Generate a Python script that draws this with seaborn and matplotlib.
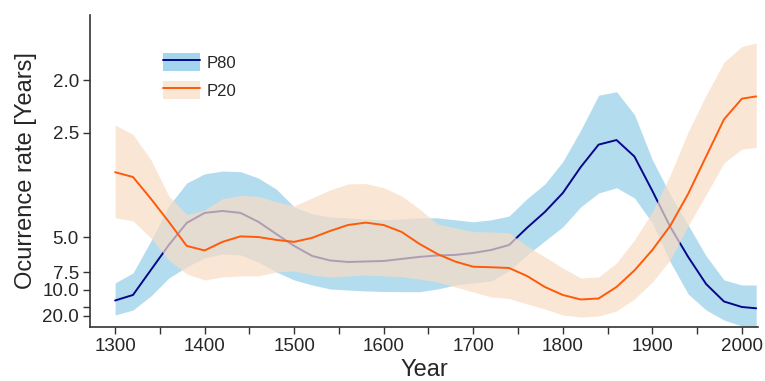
import numpy as np
import pandas as pd
import matplotlib
matplotlib.use("Agg")
import matplotlib.pyplot as plt
import seaborn as sns
from matplotlib.patches import Patch
from matplotlib.lines import Line2D

# ======================
# Data (occurrence rate in years)
# ======================
YEARS = [1300, 1320, 1340, 1360, 1380, 1400, 1420, 1440, 1460, 1480,
         1500, 1520, 1540, 1560, 1580, 1600, 1620, 1640, 1660, 1680,
         1700, 1720, 1740, 1760, 1780, 1800, 1820, 1840, 1860, 1880,
         1900, 1920, 1940, 1960, 1980, 2000, 2016]

P80_MID = [12.57, 11.10, 7.25, 5.39, 4.39, 4.05, 3.99, 4.05, 4.35, 4.84,
           5.44, 6.07, 6.41, 6.53, 6.49, 6.45, 6.29, 6.14, 6.04, 6.00,
           5.87, 5.68, 5.39, 4.58, 4.02, 3.51, 2.99, 2.65, 2.59, 2.82,
           3.46, 4.54, 6.14, 9.00, 12.88, 14.90, 15.47]
P80_LOW = [8.85, 7.57, 5.17, 3.84, 3.29, 3.11, 3.06, 3.07, 3.19, 3.42,
           3.87, 4.08, 4.18, 4.21, 4.25, 4.28, 4.25, 4.21, 4.21, 4.28,
           4.35, 4.28, 4.15, 3.65, 3.31, 2.90, 2.47, 2.12, 2.09, 2.30,
           2.87, 3.55, 4.47, 6.07, 8.42, 9.16, 9.16]
P80_HIGH = [19.30, 16.29, 11.34, 8.16, 6.96, 6.22, 5.94, 6.00, 6.53, 7.46,
            8.42, 9.16, 9.85, 10.04, 10.23, 10.33, 10.38, 10.38, 9.85, 9.16,
            8.85, 8.56, 7.35, 6.00, 5.17, 4.54, 3.87, 3.51, 3.39, 3.63,
            4.39, 6.53, 10.87, 16.29, 23.66, 32.48, 34.63]

P20_MID = [3.08, 3.17, 3.65, 4.35, 5.44, 5.71, 5.22, 4.95, 4.98, 5.12,
           5.22, 5.02, 4.71, 4.47, 4.38, 4.47, 4.75, 5.33, 5.94, 6.50,
           6.94, 6.99, 7.06, 7.91, 9.49, 11.10, 12.27, 11.99, 9.49, 7.30,
           5.68, 4.50, 3.53, 2.82, 2.35, 2.15, 2.13]
P20_LOW = [2.41, 2.52, 2.87, 3.58, 4.11, 3.96, 3.65, 3.57, 3.59, 3.73,
           3.84, 3.63, 3.44, 3.31, 3.30, 3.39, 3.58, 3.93, 4.43, 4.58,
           4.74, 4.75, 4.79, 5.44, 6.14, 7.06, 8.16, 8.03, 6.61, 5.12,
           4.02, 3.13, 2.49, 2.12, 1.87, 1.77, 1.75]
P20_HIGH = [4.21, 4.32, 5.02, 6.37, 7.68, 8.42, 8.03, 7.91, 7.91, 7.46,
            7.35, 7.79, 8.03, 7.91, 7.79, 7.91, 8.00, 8.29, 8.70, 9.49,
            10.44, 11.59, 11.99, 13.72, 15.80, 19.30, 20.83, 20.03, 16.81, 12.13,
            8.70, 6.37, 4.50, 3.55, 2.92, 2.71, 2.69]

Y_TICKS = [2.0, 2.5, 5.0, 7.5, 10.0, 15.0, 20.0]
Y_TICK_LABELS = ["2.0", "2.5", "5.0", "7.5", "10.0", "", "20.0"]
X_TICKS = list(range(1300, 2001, 50))
X_TICK_LABELS = [str(y) if y % 100 == 0 else "" for y in X_TICKS]

# ======================
# Style
# ======================
BLUE_BAND = "#b3dcef"
BLUE_PATCH = "#a3d6ee"
BLUE_LINE = "#07078a"
ORANGE_BAND = "#f9dcc4"
ORANGE_LINE = "#ff5a0a"
BAND_ALPHA = 0.7

sns.set_style("ticks")
plt.rcParams["font.family"] = ["Liberation Sans", "DejaVu Sans"]

# reciprocal axis: plot 1/rate so that the rate axis is stretched at the top
df = pd.DataFrame({
    "year": YEARS,
    "p80": 1 / np.array(P80_MID),
    "p20": 1 / np.array(P20_MID),
})

fig = plt.figure(figsize=(7.65, 3.81), dpi=100)
ax = fig.add_axes([90 / 765, 1 - 327 / 381, (758 - 90) / 765, (327 - 15) / 381])

ax.fill_between(YEARS, 1 / np.array(P80_LOW), 1 / np.array(P80_HIGH),
                color=BLUE_BAND, lw=0, zorder=1)
sns.lineplot(data=df, x="year", y="p80", color=BLUE_LINE, lw=1.4, ax=ax, zorder=2)
ax.fill_between(YEARS, 1 / np.array(P20_LOW), 1 / np.array(P20_HIGH),
                color=ORANGE_BAND, alpha=BAND_ALPHA, lw=0, zorder=3)
sns.lineplot(data=df, x="year", y="p20", color=ORANGE_LINE, lw=1.4, ax=ax, zorder=4)
for ln in ax.get_lines():
    ln.set_solid_joinstyle("round")

# axes
ax.set_xlim(1272, 2018)
ax.set_ylim(1 / 34.6, 1 / 1.6)
ax.set_xticks(X_TICKS)
ax.set_xticklabels(X_TICK_LABELS)
ax.set_yticks([1 / t for t in Y_TICKS])
ax.set_yticklabels(Y_TICK_LABELS)
ax.tick_params(axis="both", labelsize=13.5, length=5, width=1, color="#333333",
               direction="out", pad=3)
for side in ["left", "bottom"]:
    ax.spines[side].set_linewidth(1.2)
    ax.spines[side].set_color("#333333")
sns.despine(ax=ax)

ax.set_xlabel("Year", fontsize=17, labelpad=3)
ax.set_ylabel("Ocurrence rate [Years]", fontsize=17, labelpad=4)

# legend
handles = [
    (Patch(facecolor=BLUE_PATCH, edgecolor="none"), Line2D([], [], color=BLUE_LINE, lw=1.4)),
    (Patch(facecolor=ORANGE_BAND, alpha=BAND_ALPHA, edgecolor="none"), Line2D([], [], color=ORANGE_LINE, lw=1.4)),
]
fig.legend(handles, ["P80", "P20"], loc="upper left",
           bbox_to_anchor=(163 / 765, 1 - 53 / 381), bbox_transform=fig.transFigure,
           frameon=False, fontsize=12, handlelength=2.2, handleheight=1.3,
           labelspacing=0.6, handletextpad=0.4, borderpad=0, borderaxespad=0)

fig.savefig("out.png", dpi=100)
